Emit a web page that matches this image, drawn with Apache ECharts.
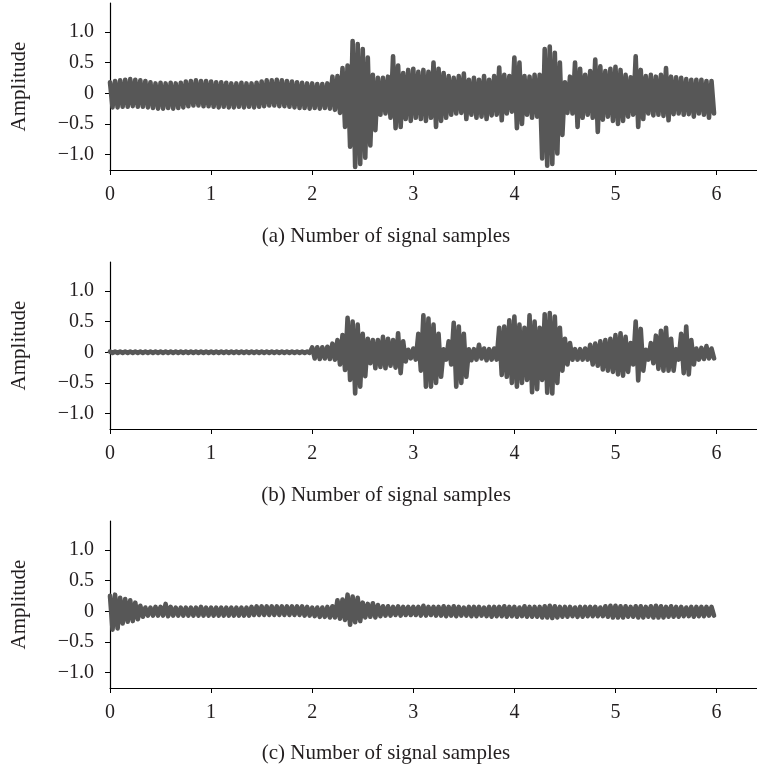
<!DOCTYPE html>
<html>
<head>
<meta charset="utf-8">
<script src="https://cdn.jsdelivr.net/npm/echarts@6/dist/echarts.min.js"></script>
<style>html,body{margin:0;padding:0;background:#fff}#c{width:757px;height:769px}</style>
</head>
<body>
<div id="c"></div>
<script>
// Envelope samples, one every 0.05 along x (0 .. 5.95)
const sampleStep = 0.05;
const xTicks = [0, 1, 2, 3, 4, 5, 6];
const yTicks = [-1, -0.5, 0, 0.5, 1];
const yTickLabels = ['\u22121.0', '\u22120.5', '0', '0.5', '1.0'];
const captions = ['(a) Number of signal samples', '(b) Number of signal samples', '(c) Number of signal samples'];
const yName = 'Amplitude';

const upperA = [0.18,0.20,0.21,0.22,0.23,0.22,0.21,0.20,0.18,0.16,
 0.17,0.16,0.17,0.16,0.17,0.19,0.20,0.21,0.20,0.20,
 0.19,0.18,0.18,0.17,0.16,0.16,0.17,0.16,0.16,0.17,
 0.19,0.21,0.21,0.22,0.21,0.20,0.19,0.18,0.17,0.16,
 0.16,0.15,0.15,0.16,0.27,0.28,0.41,0.45,0.85,0.80,
 0.72,0.58,0.30,0.25,0.25,0.27,0.60,0.45,0.33,0.38,
 0.40,0.35,0.38,0.35,0.50,0.40,0.33,0.28,0.25,0.28,
 0.32,0.22,0.25,0.22,0.28,0.22,0.28,0.42,0.30,0.28,
 0.58,0.50,0.28,0.27,0.30,0.30,0.72,0.76,0.66,0.50,
 0.18,0.27,0.50,0.40,0.30,0.36,0.55,0.44,0.36,0.40,
 0.43,0.38,0.30,0.26,0.60,0.38,0.28,0.30,0.27,0.30,
 0.41,0.27,0.26,0.25,0.23,0.22,0.22,0.22,0.20,0.20];
const lowerA = [-0.23,-0.23,-0.22,-0.22,-0.21,-0.22,-0.22,-0.23,-0.24,-0.25,
 -0.25,-0.24,-0.25,-0.24,-0.23,-0.21,-0.20,-0.20,-0.21,-0.21,
 -0.22,-0.23,-0.22,-0.23,-0.23,-0.22,-0.23,-0.22,-0.23,-0.22,
 -0.21,-0.20,-0.20,-0.21,-0.21,-0.22,-0.23,-0.24,-0.24,-0.25,
 -0.24,-0.25,-0.24,-0.25,-0.27,-0.32,-0.55,-0.87,-1.20,-1.15,
 -1.05,-0.85,-0.60,-0.35,-0.33,-0.40,-0.57,-0.55,-0.42,-0.45,
 -0.40,-0.42,-0.45,-0.40,-0.55,-0.45,-0.40,-0.35,-0.33,-0.32,
 -0.42,-0.35,-0.40,-0.38,-0.42,-0.36,-0.35,-0.44,-0.33,-0.30,
 -0.57,-0.50,-0.35,-0.40,-0.38,-1.06,-1.18,-1.15,-0.98,-0.68,
 -0.32,-0.33,-0.55,-0.40,-0.35,-0.40,-0.63,-0.43,-0.38,-0.45,
 -0.50,-0.45,-0.38,-0.35,-0.55,-0.42,-0.33,-0.36,-0.35,-0.37,
 -0.44,-0.34,-0.33,-0.35,-0.34,-0.38,-0.33,-0.35,-0.40,-0.33];

const upperB = [0.01,0.01,0.01,0.01,0.01,0.01,0.01,0.01,0.01,0.01,
 0.01,0.01,0.01,0.01,0.01,0.01,0.01,0.01,0.01,0.01,
 0.01,0.01,0.01,0.01,0.01,0.01,0.01,0.01,0.01,0.01,
 0.01,0.01,0.01,0.01,0.01,0.01,0.01,0.01,0.01,0.01,
 0.08,0.08,0.08,0.09,0.14,0.20,0.28,0.56,0.50,0.45,
 0.30,0.22,0.20,0.20,0.25,0.22,0.20,0.31,0.18,0.04,
 0.06,0.30,0.60,0.55,0.45,0.30,0.05,0.18,0.48,0.42,
 0.30,0.05,0.05,0.12,0.06,0.05,0.06,0.40,0.42,0.52,
 0.58,0.45,0.40,0.60,0.50,0.40,0.62,0.64,0.58,0.40,
 0.22,0.15,0.05,0.05,0.06,0.12,0.14,0.18,0.20,0.22,
 0.28,0.31,0.25,0.15,0.50,0.38,0.04,0.15,0.27,0.35,
 0.40,0.22,0.05,0.30,0.42,0.20,0.06,0.07,0.10,0.06];
const lowerB = [-0.01,-0.01,-0.01,-0.01,-0.01,-0.01,-0.01,-0.01,-0.01,-0.01,
 -0.01,-0.01,-0.01,-0.01,-0.01,-0.01,-0.01,-0.01,-0.01,-0.01,
 -0.01,-0.01,-0.01,-0.01,-0.01,-0.01,-0.01,-0.01,-0.01,-0.01,
 -0.01,-0.01,-0.01,-0.01,-0.01,-0.01,-0.01,-0.01,-0.01,-0.01,
 -0.10,-0.11,-0.10,-0.11,-0.12,-0.20,-0.29,-0.45,-0.67,-0.56,
 -0.39,-0.18,-0.26,-0.24,-0.26,-0.22,-0.25,-0.34,-0.15,-0.10,
 -0.12,-0.30,-0.56,-0.56,-0.50,-0.40,-0.12,-0.20,-0.56,-0.50,
 -0.40,-0.13,-0.12,-0.10,-0.13,-0.12,-0.12,-0.37,-0.40,-0.50,
 -0.56,-0.50,-0.45,-0.65,-0.60,-0.45,-0.66,-0.67,-0.50,-0.30,
 -0.20,-0.12,-0.12,-0.12,-0.12,-0.20,-0.22,-0.28,-0.30,-0.32,
 -0.36,-0.38,-0.32,-0.20,-0.46,-0.30,-0.12,-0.18,-0.27,-0.30,
 -0.30,-0.30,-0.12,-0.34,-0.36,-0.20,-0.12,-0.11,-0.10,-0.10];

const upperC = [0.25,0.27,0.22,0.20,0.18,0.14,0.09,0.06,0.06,0.07,
 0.07,0.12,0.07,0.06,0.06,0.06,0.06,0.06,0.07,0.06,
 0.06,0.06,0.06,0.06,0.06,0.06,0.06,0.06,0.07,0.08,
 0.08,0.08,0.08,0.08,0.08,0.08,0.08,0.08,0.08,0.07,
 0.06,0.06,0.06,0.07,0.08,0.18,0.19,0.27,0.24,0.22,
 0.14,0.12,0.13,0.10,0.08,0.08,0.07,0.08,0.07,0.07,
 0.07,0.07,0.09,0.07,0.07,0.07,0.08,0.07,0.08,0.07,
 0.06,0.07,0.07,0.07,0.06,0.07,0.07,0.07,0.08,0.07,
 0.07,0.06,0.08,0.07,0.07,0.07,0.08,0.09,0.08,0.07,
 0.07,0.07,0.06,0.07,0.07,0.07,0.07,0.06,0.08,0.09,
 0.09,0.08,0.08,0.07,0.08,0.08,0.07,0.08,0.09,0.08,
 0.07,0.08,0.07,0.07,0.06,0.07,0.07,0.07,0.07,0.07];
const lowerC = [-0.30,-0.28,-0.20,-0.17,-0.16,-0.13,-0.09,-0.07,-0.07,-0.07,
 -0.07,-0.08,-0.07,-0.07,-0.07,-0.07,-0.07,-0.07,-0.07,-0.07,
 -0.07,-0.07,-0.07,-0.07,-0.07,-0.07,-0.07,-0.07,-0.06,-0.06,
 -0.06,-0.06,-0.06,-0.06,-0.06,-0.06,-0.06,-0.06,-0.07,-0.07,
 -0.08,-0.09,-0.09,-0.10,-0.10,-0.12,-0.14,-0.22,-0.18,-0.16,
 -0.10,-0.09,-0.10,-0.08,-0.07,-0.07,-0.06,-0.07,-0.06,-0.06,
 -0.06,-0.07,-0.07,-0.06,-0.07,-0.07,-0.08,-0.07,-0.08,-0.07,
 -0.07,-0.08,-0.08,-0.07,-0.08,-0.09,-0.08,-0.08,-0.09,-0.08,
 -0.09,-0.08,-0.09,-0.09,-0.09,-0.10,-0.10,-0.11,-0.10,-0.09,
 -0.09,-0.08,-0.09,-0.09,-0.08,-0.08,-0.08,-0.08,-0.09,-0.10,
 -0.10,-0.10,-0.09,-0.09,-0.10,-0.10,-0.09,-0.10,-0.10,-0.10,
 -0.09,-0.09,-0.09,-0.08,-0.08,-0.09,-0.08,-0.08,-0.07,-0.07];

const panels = [[upperA, lowerA], [upperB, lowerB], [upperC, lowerC]];

function zigzag(up, lo) {
  const out = [];
  for (let i = 0; i < up.length; i++) {
    const x = i * sampleStep;
    out.push([x, up[i]]);
    out.push([x + sampleStep / 2, lo[i]]);
  }
  return out;
}

const font = '"Liberation Serif", "DejaVu Serif", serif';
const txt = '#231f20';
const tops = [3, 262, 521];
const gridH = 167;

const option = {
  animation: false,
  backgroundColor: '#ffffff',
  grid: tops.map(t => ({ left: 110, top: t, width: 647, height: gridH, containLabel: false })),
  xAxis: tops.map((t, k) => ({
    type: 'value', gridIndex: k, min: 0, max: 6.4,
    axisLine: { show: true, onZero: false, lineStyle: { color: '#000', width: 1.2 } },
    axisTick: { show: true, length: 5, customValues: xTicks, lineStyle: { color: '#000', width: 1 } },
    axisLabel: { customValues: xTicks, fontFamily: font, fontSize: 20, color: txt, margin: 15 },
    splitLine: { show: false }
  })),
  yAxis: tops.map((t, k) => ({
    type: 'value', gridIndex: k, min: -1.25, max: 1.47,
    name: yName, nameLocation: 'middle', nameGap: 80, nameRotate: 90,
    nameTextStyle: { fontFamily: font, fontSize: 21, color: txt },
    axisLine: { show: true, onZero: false, lineStyle: { color: '#000', width: 1.2 } },
    axisTick: { show: true, length: 5, customValues: yTicks, lineStyle: { color: '#000', width: 1 } },
    axisLabel: {
      customValues: yTicks, fontFamily: font, fontSize: 20, color: txt, margin: 16,
      formatter: v => { const j = yTicks.findIndex(t => Math.abs(t - v) < 1e-9); return j >= 0 ? yTickLabels[j] : ''; }
    },
    splitLine: { show: false }
  })),
  series: panels.map((p, k) => ({
    type: 'line', xAxisIndex: k, yAxisIndex: k,
    data: zigzag(p[0], p[1]),
    showSymbol: false, symbol: 'none',
    lineStyle: { color: '#575757', width: 4.6, join: 'round', cap: 'round' },
    silent: true
  })),
  graphic: captions.map((c, k) => ({
    type: 'text', x: 386, y: [236, 495, 753][k],
    style: { text: c, font: '21px ' + font, fill: txt, textAlign: 'center', textVerticalAlign: 'middle' }
  }))
};

const chart = echarts.init(document.getElementById('c'), null, { renderer: 'canvas' });
chart.setOption(option);
</script>
</body>
</html>
